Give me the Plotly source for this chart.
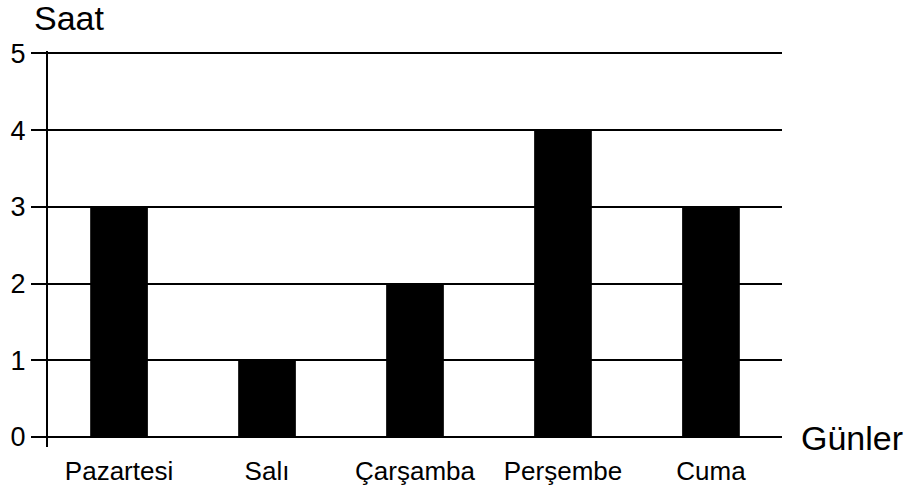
import plotly.graph_objects as go

gunler = ["Pazartesi", "Salı", "Çarşamba", "Perşembe", "Cuma"]
saat = [3, 1, 2, 4, 3]
y_ticks = [0, 1, 2, 3, 4, 5]

FONT = "Liberation Sans, Arial, sans-serif"
W, H = 916, 493
L, R, T, B = 48, 134, 51, 46
pw, ph = W - L - R, H - T - B

pos = list(range(len(gunler)))

fig = go.Figure()
fig.add_trace(go.Bar(x=pos, y=saat, width=0.39, marker=dict(color="black", line=dict(width=0))))

fig.update_layout(
    width=W, height=H,
    margin=dict(l=L, r=R, t=T, b=B, pad=0, autoexpand=False),
    plot_bgcolor="white", paper_bgcolor="white",
    showlegend=False,
    font=dict(family=FONT, color="black"),
    xaxis=dict(
        range=[-0.48, 4.48], tickmode="array", tickvals=pos, ticktext=gunler,
        showgrid=False, zeroline=False, showline=False, ticks="",
        tickfont=dict(size=26, family=FONT, color="black"),
        ticklabelstandoff=6, automargin=False,
    ),
    yaxis=dict(
        range=[-0.13, 5.03], tickmode="array", tickvals=y_ticks,
        showgrid=True, gridcolor="black", gridwidth=2,
        zeroline=True, zerolinecolor="black", zerolinewidth=2,
        showline=True, linecolor="black", linewidth=2,
        ticks="outside", ticklen=15, tickwidth=2, tickcolor="black",
        tickfont=dict(size=27, family=FONT, color="black"),
        automargin=False,
    ),
    annotations=[
        dict(text="Saat", xref="paper", yref="paper",
             x=(32 - L) / pw, y=(H - B - 18) / ph, xanchor="left", yanchor="middle",
             showarrow=False, font=dict(size=34, family=FONT, color="black")),
        dict(text="Günler", xref="paper", yref="paper",
             x=(799 - L) / pw, y=(H - B - 438) / ph, xanchor="left", yanchor="middle",
             showarrow=False, font=dict(size=34, family=FONT, color="black")),
    ],
)

fig.write_html("out.html", config={"displayModeBar": False},
               post_script="document.body.style.margin='0';document.body.style.overflow='hidden';")
